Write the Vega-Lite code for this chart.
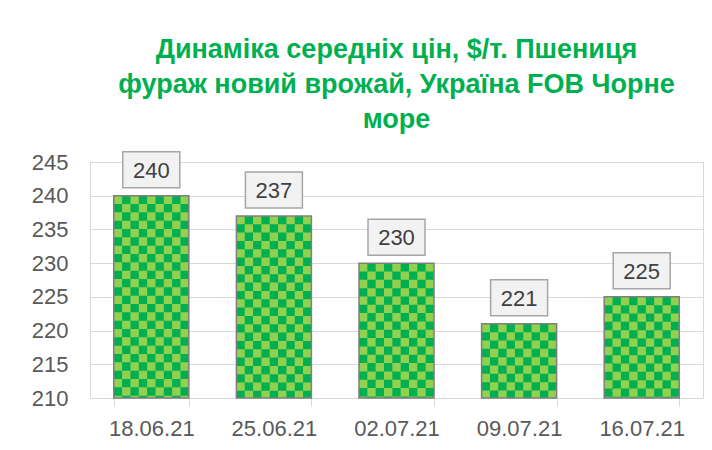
{
  "$schema": "https://vega.github.io/schema/vega-lite/v6.json",
  "width": 613,
  "height": 236,
  "autosize": "none",
  "padding": {"left": 90, "top": 162, "right": 9, "bottom": 52},
  "background": "white",
  "title": {
    "text": ["Динаміка середніх цін, $/т. Пшениця", "фураж новий врожай, Україна FOB Чорне", "море"],
    "font": "Liberation Sans",
    "fontSize": 27,
    "fontWeight": "bold",
    "color": "#00b050",
    "lineHeight": 35,
    "anchor": "middle",
    "frame": "group",
    "offset": 15
  },
  "data": {
    "values": [
      {"date": "18.06.21", "price": 240},
      {"date": "25.06.21", "price": 237},
      {"date": "02.07.21", "price": 230},
      {"date": "09.07.21", "price": 221},
      {"date": "16.07.21", "price": 225}
    ]
  },
  "encoding": {
    "x": {
      "field": "date",
      "type": "nominal",
      "sort": null,
      "scale": {"paddingInner": 0.388, "paddingOuter": 0.194},
      "axis": {
        "title": null,
        "labelAngle": 0,
        "labelFont": "Liberation Sans",
        "labelFontSize": 22,
        "labelColor": "#595959",
        "domain": false,
        "ticks": true,
        "tickBand": "extent",
        "tickSize": 8,
        "tickColor": "#d9d9d9",
        "labelPadding": 12
      }
    },
    "y": {
      "field": "price",
      "type": "quantitative",
      "scale": {"domain": [210, 245], "zero": false, "nice": false},
      "axis": {
        "title": null,
        "values": [210, 215, 220, 225, 230, 235, 240, 245],
        "labelFont": "Liberation Sans",
        "labelFontSize": 22,
        "labelColor": "#595959",
        "domain": false,
        "ticks": false,
        "labelPadding": 22,
        "gridColor": "#d9d9d9",
        "gridWidth": 1
      }
    }
  },
  "layer": [
    {"mark": {"type": "bar", "fill": "#00b050", "stroke": null}, "encoding": {"y2": {"datum": 210}}},
    {"mark": {"type": "rule", "stroke": "#92d050", "strokeWidth": 8.34, "strokeDash": [8.33, 8.33], "strokeDashOffset": 0, "xOffset": -33.33}, "encoding": {"y2": {"datum": 210}}},
    {"mark": {"type": "rule", "stroke": "#92d050", "strokeWidth": 8.34, "strokeDash": [8.33, 8.33], "strokeDashOffset": 8.33, "xOffset": -25}, "encoding": {"y2": {"datum": 210}}},
    {"mark": {"type": "rule", "stroke": "#92d050", "strokeWidth": 8.34, "strokeDash": [8.33, 8.33], "strokeDashOffset": 0, "xOffset": -16.67}, "encoding": {"y2": {"datum": 210}}},
    {"mark": {"type": "rule", "stroke": "#92d050", "strokeWidth": 8.34, "strokeDash": [8.33, 8.33], "strokeDashOffset": 8.33, "xOffset": -8.33}, "encoding": {"y2": {"datum": 210}}},
    {"mark": {"type": "rule", "stroke": "#92d050", "strokeWidth": 8.34, "strokeDash": [8.33, 8.33], "strokeDashOffset": 0, "xOffset": 0}, "encoding": {"y2": {"datum": 210}}},
    {"mark": {"type": "rule", "stroke": "#92d050", "strokeWidth": 8.34, "strokeDash": [8.33, 8.33], "strokeDashOffset": 8.33, "xOffset": 8.33}, "encoding": {"y2": {"datum": 210}}},
    {"mark": {"type": "rule", "stroke": "#92d050", "strokeWidth": 8.34, "strokeDash": [8.33, 8.33], "strokeDashOffset": 0, "xOffset": 16.67}, "encoding": {"y2": {"datum": 210}}},
    {"mark": {"type": "rule", "stroke": "#92d050", "strokeWidth": 8.34, "strokeDash": [8.33, 8.33], "strokeDashOffset": 8.33, "xOffset": 25}, "encoding": {"y2": {"datum": 210}}},
    {"mark": {"type": "rule", "stroke": "#92d050", "strokeWidth": 8.34, "strokeDash": [8.33, 8.33], "strokeDashOffset": 0, "xOffset": 33.33}, "encoding": {"y2": {"datum": 210}}},
    {"mark": {"type": "bar", "fill": null, "fillOpacity": 0, "stroke": "#7f7f7f", "strokeWidth": 1.5}, "encoding": {"y2": {"datum": 210}}},
    {
      "mark": {
        "type": "point",
        "shape": "M-1,-0.632L1,-0.632L1,0.632L-1,0.632Z",
        "size": 3249,
        "filled": true,
        "fill": "#f2f2f2",
        "fillOpacity": 1,
        "opacity": 1,
        "stroke": "#a6a6a6",
        "strokeWidth": 1.5,
        "yOffset": -26
      }
    },
    {
      "mark": {
        "type": "text",
        "font": "Liberation Sans",
        "fontSize": 22,
        "color": "#404040",
        "baseline": "middle",
        "align": "center",
        "yOffset": -25
      },
      "encoding": {"text": {"field": "price", "type": "quantitative"}}
    }
  ],
  "config": {
    "view": {"stroke": "#d9d9d9", "strokeWidth": 1}
  }
}
